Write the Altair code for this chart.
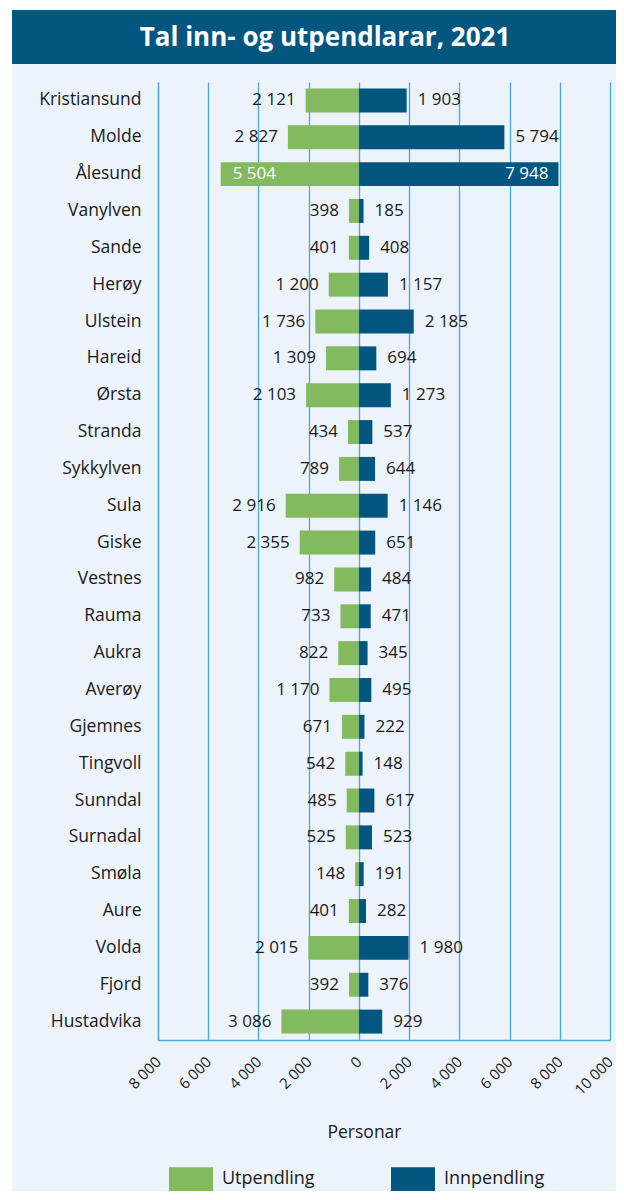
import altair as alt
import pandas as pd

kommunar = ["Kristiansund", "Molde", "Ålesund", "Vanylven", "Sande", "Herøy", "Ulstein",
            "Hareid", "Ørsta", "Stranda", "Sykkylven", "Sula", "Giske", "Vestnes", "Rauma",
            "Aukra", "Averøy", "Gjemnes", "Tingvoll", "Sunndal", "Surnadal", "Smøla", "Aure",
            "Volda", "Fjord", "Hustadvika"]
utpendling = [2121, 2827, 5504, 398, 401, 1200, 1736, 1309, 2103, 434, 789, 2916, 2355,
              982, 733, 822, 1170, 671, 542, 485, 525, 148, 401, 2015, 392, 3086]
innpendling = [1903, 5794, 7948, 185, 408, 1157, 2185, 694, 1273, 537, 644, 1146, 651,
               484, 471, 345, 495, 222, 148, 617, 523, 191, 282, 1980, 376, 929]
inside_labels = ["Ålesund"]
series = ["Utpendling", "Innpendling"]
colors = ["#84BA5F", "#02567F"]
title_text = "Tal inn- og utpendlarar, 2021"

FONT = "Open Sans"
BG = "#ECF3FA"
GRID = "#48A9DA"
INK = "#1a1a1a"

rows = []
for k, u, i in zip(kommunar, utpendling, innpendling):
    for s, v, sign in (("Utpendling", u, -1), ("Innpendling", i, 1)):
        rows.append({
            "kommune": k, "serie": s, "verdi": sign * v,
            "etikett": f"{v:,}".replace(",", " "),
            "inne": k in inside_labels,
        })
df = pd.DataFrame(rows)

W, H = 452, 958
PAD_L, PAD_T, PAD_R, PAD_B = 150, 74, 6, 151
one = pd.DataFrame({"a": [0]})

x_scale = alt.Scale(domain=[-8000, 10000], nice=False)
y_scale = alt.Scale(paddingInner=0.35, paddingOuter=0.175)

white_left = alt.Chart(one).mark_rect(color="white").encode(
    x=alt.value(-PAD_L), x2=alt.value(-PAD_L + 4), y=alt.value(-PAD_T), y2=alt.value(H + PAD_B))
white_top = alt.Chart(one).mark_rect(color="white").encode(
    x=alt.value(-PAD_L), x2=alt.value(W + PAD_R), y=alt.value(-PAD_T), y2=alt.value(-PAD_T + 2))
banner = alt.Chart(one).mark_rect(color="#02567F").encode(
    x=alt.value(-PAD_L + 4), x2=alt.value(W + PAD_R), y=alt.value(-72), y2=alt.value(-18))
title = alt.Chart(pd.DataFrame({"t": [title_text]})).mark_text(
    color="white", font=FONT, fontSize=26, fontWeight="bold", align="center",
    baseline="middle").encode(x=alt.value(167), y=alt.value(-44), text="t:N")

bars = alt.Chart(df).mark_bar().encode(
    x=alt.X("verdi:Q", scale=x_scale,
            axis=alt.Axis(values=list(range(-8000, 10001, 2000)), grid=True,
                          gridColor=GRID, gridWidth=1.3, domainColor=GRID,
                          domainWidth=1.3, ticks=False, labelAngle=-45,
                          labelAlign="right", labelBaseline="middle", labelPadding=19,
                          labelFontSize=15, labelFont=FONT, labelColor=INK,
                          labelExpr="replace(format(abs(datum.value), ','), ',', ' ')",
                          title="Personar", titleFont=FONT, titleFontSize=17.5,
                          titleFontWeight=500, titleColor=INK,
                          titleX=206, titleY=92, titleAlign="center",
                          titleBaseline="middle")),
    y=alt.Y("kommune:N", sort=kommunar, scale=y_scale,
            axis=alt.Axis(title=None, ticks=False, domain=True, domainColor=GRID,
                          domainWidth=1.3, labelFontSize=17.5, labelFont=FONT,
                          labelColor=INK, labelPadding=17)),
    color=alt.Color("serie:N", scale=alt.Scale(domain=series, range=colors),
                    legend=alt.Legend(title=None, orient="none", direction="horizontal",
                                      legendX=22, legendY=1086, padding=0,
                                      symbolType="M-2,-1.1L2,-1.1L2,1.1L-2,1.1Z",
                                      symbolSize=484, symbolStrokeWidth=0,
                                      labelFont=FONT, labelFontSize=18,
                                      labelColor=INK, labelOffset=20,
                                      columnPadding=76)),
)

base = alt.Chart(df)
txt_kw = dict(font=FONT, fontSize=17, baseline="middle")
enc = dict(x=alt.X("verdi:Q", scale=x_scale),
           y=alt.Y("kommune:N", sort=kommunar),
           text="etikett:N")
lab_out_l = base.transform_filter("datum.serie == 'Utpendling' && !datum.inne").mark_text(
    align="right", dx=-10, color=INK, **txt_kw).encode(**enc)
lab_out_r = base.transform_filter("datum.serie == 'Innpendling' && !datum.inne").mark_text(
    align="left", dx=11, color=INK, **txt_kw).encode(**enc)
lab_in_l = base.transform_filter("datum.serie == 'Utpendling' && datum.inne").mark_text(
    align="left", dx=12, color="white", **txt_kw).encode(**enc)
lab_in_r = base.transform_filter("datum.serie == 'Innpendling' && datum.inne").mark_text(
    align="right", dx=-10, color="white", **txt_kw).encode(**enc)

chart = alt.layer(white_left, white_top, banner, title, bars,
                  lab_out_l, lab_out_r, lab_in_l, lab_in_r).properties(
    width=W, height=H, background=BG,
    autosize=alt.AutoSizeParams(type="none"),
    padding={"left": PAD_L, "top": PAD_T, "right": PAD_R, "bottom": PAD_B},
).configure_view(stroke=None, fill=None)

chart.save("out.html", embed_options={"renderer": "svg", "actions": False})
